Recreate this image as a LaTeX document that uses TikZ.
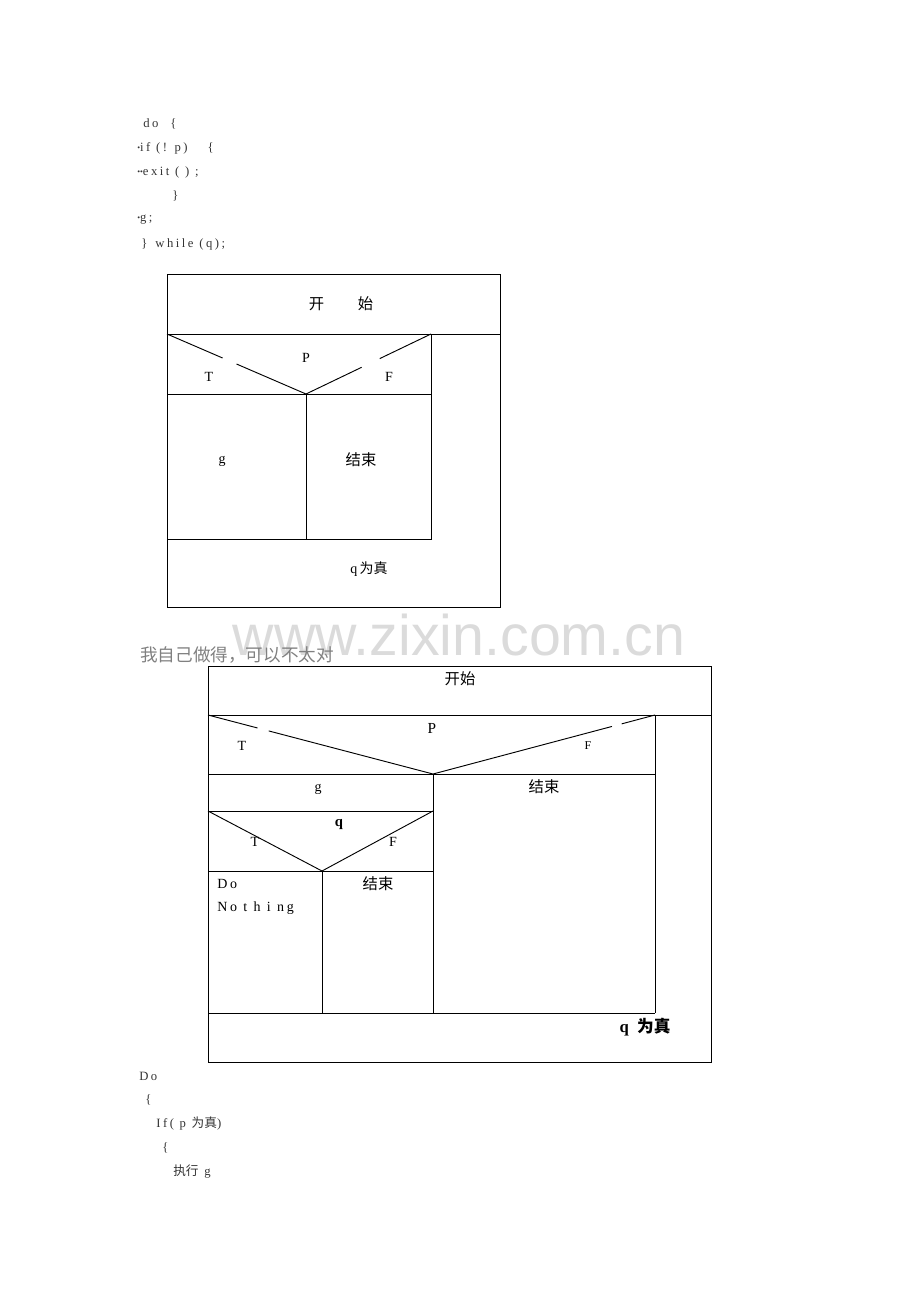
\documentclass[tikz,border=0pt]{standalone}
\usepackage{fontspec}
\setmainfont{Liberation Serif}
\newfontfamily\cjk{Noto Sans CJK SC}
\newfontfamily\wmfont{Liberation Sans}
\newfontfamily\codefont[LetterSpace=20]{Liberation Serif}
\usetikzlibrary{calc}
\usetikzlibrary{positioning}

\newcommand{\zh}[1]{{\cjk #1}}
\newcommand{\tabdot}{{\fontsize{6}{6}\selectfont\raisebox{0.25ex}{\textbullet}}}

\tikzset{
  frame/.style={draw=black, line width=0.75pt},
  rule/.style={draw=black, line width=0.7pt},
  code/.style={font=\codefont\fontsize{9.5}{10}\selectfont, text=black!80, anchor=west, inner sep=0pt},
  lbl/.style={font=\fontsize{10.5}{12}\selectfont, inner sep=0pt},
  zhlbl/.style={font=\fontsize{11.5}{13}\cjk, inner sep=0pt},
}

\begin{document}
\begin{tikzpicture}[x=0.75pt,y=-0.75pt]
\useasboundingbox (0,0) rectangle (920,1302);

% code on top
\node[code] (top1) at (143,124) {do\hspace{9pt}\{};
\node[code] (top2) at (137,148) {\tabdot if (! p)\hspace{15pt}\{};
\node[code] (top3) at (137,172) {\tabdot\tabdot exit ( ) ;};
\node[code] (top4) at (172,196) {\}};
\node[code] (top5) at (137,220) {\tabdot g;};
\node[code] (top6) at (141,244) {\}\hspace{6pt}while (q);};

% first chart
\draw[frame] (167,274) rectangle (500,607);
\draw[rule] (167,334) -- (500,334);
\draw[rule] (431,334) -- (431,539) -- (167,539);
\draw[rule] (167,394) -- (431,394);
\draw[rule] (306,394) -- (306,539);
\coordinate (pl) at (167,334);
\coordinate (pv) at (306,394);
\coordinate (pr) at (431,334);
\draw[rule] (pl) -- ($(pl)!0.40!(pv)$) ($(pl)!0.50!(pv)$) -- (pv)
  -- ($(pv)!0.445!(pr)$) ($(pv)!0.59!(pr)$) -- (pr);

\node[zhlbl] (start1) at (341,304) {开\hspace{2.2em}始};
\node[lbl] (p1) at (306,358) {P};
\node[lbl] (t1) at (209,377) {T};
\node[lbl] (f1) at (389,377) {F};
\node[lbl] (g1) at (222,461) {g};
\node[zhlbl] (end1) at (361,460) {结束};
\node[lbl] (loop1) at (369,569) {q\,\zh{为真}};

% watermark and remark
\node[font=\wmfont\fontsize{43}{43}\selectfont, text=black!14, anchor=base, inner sep=0pt] (wm) at (459,655) {www.zixin.com.cn};
\node[font=\fontsize{13.2}{14}\cjk, text=black!50, anchor=west, inner sep=0pt] (note) at (140,655) {我自己做得，可以不太对};

% second chart
\draw[frame] (208,666) rectangle (711,1062);
\draw[rule] (208,715) -- (711,715);
\draw[rule] (655,715) -- (655,1013);
\draw[rule] (208,1013) -- (655,1013);
\draw[rule] (208,774) -- (655,774);
\draw[rule] (433,774) -- (433,1013);
\draw[rule] (208,811) -- (433,811);
\draw[rule] (208,871) -- (433,871);
\draw[rule] (322,871) -- (322,1013);
\coordinate (ql) at (208,715);
\coordinate (qv) at (433,774);
\coordinate (qr) at (655,715);
\draw[rule] (ql) -- ($(ql)!0.22!(qv)$) ($(ql)!0.27!(qv)$) -- (qv)
  -- ($(qv)!0.806!(qr)$) ($(qv)!0.85!(qr)$) -- (qr);
\coordinate (rl) at (208,811);
\coordinate (rv) at (322,871);
\coordinate (rr) at (433,811);
\draw[rule] (rl) -- (rv) -- (rr);

\node[zhlbl] (start2) at (460,679) {开始};
\node[lbl, font=\fontsize{11.5}{13}\selectfont] (p2) at (432,728) {P};
\node[lbl] (t2) at (242,746) {T};
\node[lbl, font=\fontsize{9}{10}\selectfont] (f2) at (588,746) {F};
\node[lbl] (g2) at (318,789) {g};
\node[zhlbl] (end2) at (544,787) {结束};
\node[lbl, font=\bfseries\fontsize{11}{12}\selectfont] (q2) at (339,825) {q};
\node[lbl] (t3) at (255,842) {T};
\node[lbl] (f3) at (393,842) {F};
\node[lbl, font=\codefont\fontsize{10.5}{12}\selectfont, anchor=west] (dn1) at (217,884) {Do};
\node[lbl, font=\codefont\fontsize{10.5}{12}\selectfont, anchor=west] (dn2) at (217,908) {No t h i ng};
\node[zhlbl] (end3) at (378,884) {结束};
\node[lbl, font=\bfseries\fontsize{12.5}{14}\selectfont] (loop2) at (645,1027) {q\ \ {\cjk\bfseries 为真}};

% code below
\node[code] (bot1) at (139,1076) {Do};
\node[code] (bot2) at (145,1100) {\{};
\node[code] (bot3) at (156,1124) {If( p \zh{为真})};
\node[code] (bot4) at (162,1148) {\{};
\node[code] (bot5) at (173,1172) {\zh{执行}\ g};

\end{tikzpicture}
\end{document}
